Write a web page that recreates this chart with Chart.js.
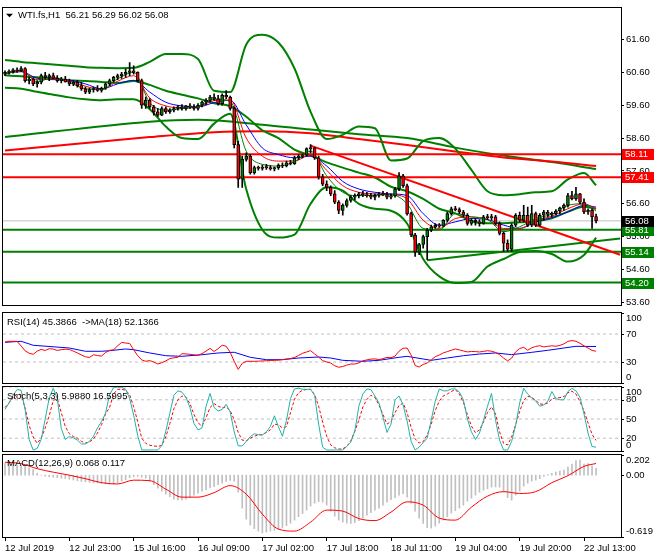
<!DOCTYPE html>
<html>
<head>
<meta charset="utf-8">
<title>WTI.fs,H1</title>
<script src="https://cdn.jsdelivr.net/npm/chart.js@4.4.1/dist/chart.umd.min.js"></script>
<style>
  body { margin: 0; background: #fff; }
  #wrap { position: relative; width: 660px; height: 560px; overflow: hidden; background: #fff; }
  canvas { position: absolute; left: 0; }
</style>
</head>
<body>
<div id="wrap">
  <canvas id="main" width="660" height="312" style="top:0px"></canvas>
  <canvas id="rsi" width="660" height="74" style="top:311px"></canvas>
  <canvas id="stoch" width="660" height="68" style="top:385px"></canvas>
  <canvas id="macd" width="660" height="107" style="top:453px"></canvas>
</div>
<script>
// ---- data (H1 bars, index 0 = 12 Jul 2019) ----
const symbol = "WTI.fs,H1";
const xTickBars = [0, 16, 32, 48, 64, 80, 96, 112, 128, 144];
const xTickLabels = ["12 Jul 2019", "12 Jul 23:00", "15 Jul 16:00", "16 Jul 09:00", "17 Jul 02:00",
                     "17 Jul 18:00", "18 Jul 11:00", "19 Jul 04:00", "19 Jul 20:00", "22 Jul 13:00"];
const priceTicks = [53.6, 54.6, 55.6, 56.6, 57.6, 58.6, 59.6, 60.6, 61.6];

const opens = [
  60.55,60.60,60.62,60.68,60.65,60.72,60.35,60.40,60.25,60.30,
  60.50,60.45,60.50,60.42,60.35,60.40,60.32,60.25,60.30,60.20,
  60.10,60.00,60.08,60.10,60.05,60.12,60.25,60.35,60.45,60.50,
  60.55,60.60,60.65,60.60,60.35,59.60,59.75,59.55,59.40,59.30,
  59.50,59.40,59.45,59.50,59.55,59.50,59.58,59.55,59.50,59.60,
  59.70,59.75,59.85,59.80,59.65,59.90,59.85,59.50,58.40,57.35,
  57.95,58.05,57.55,57.70,57.68,57.72,57.70,57.66,57.70,57.78,
  57.75,57.85,57.82,58.00,58.05,58.08,58.28,58.30,58.00,57.42,
  57.20,57.10,56.90,56.65,56.40,56.55,56.70,56.80,56.85,56.90,
  56.88,56.85,56.80,56.86,56.90,56.88,56.80,56.85,57.05,57.45,
  57.15,56.30,55.65,55.13,55.36,55.60,55.80,55.90,55.95,55.92,
  56.10,56.30,56.45,56.42,56.35,56.25,56.00,56.10,56.05,56.00,
  56.20,56.18,56.20,56.00,55.70,55.40,55.22,55.95,56.25,56.10,
  56.25,55.95,56.30,55.95,56.25,56.35,56.28,56.30,56.38,56.48,
  56.55,56.85,56.75,56.90,56.65,56.35,56.40,56.21];
const highs = [
  60.65,60.68,60.72,60.74,60.78,60.75,60.45,60.42,60.35,60.55,
  60.60,60.55,60.58,60.50,60.45,60.48,60.40,60.35,60.36,60.30,
  60.15,60.12,60.15,60.20,60.15,60.28,60.40,60.48,60.55,60.60,
  60.70,60.90,60.80,60.62,60.40,59.85,59.80,59.60,59.50,59.55,
  59.55,59.50,59.55,59.60,59.62,59.60,59.65,59.62,59.65,59.72,
  59.80,59.90,59.95,59.90,59.95,60.05,59.88,59.55,58.50,58.05,
  58.15,58.10,57.75,57.75,57.78,57.80,57.76,57.72,57.82,57.85,
  57.90,57.92,58.05,58.10,58.12,58.30,58.40,58.32,58.05,57.50,
  57.30,57.15,57.00,56.70,56.60,56.75,56.85,56.90,56.95,56.98,
  56.95,56.92,56.90,56.95,56.98,56.95,56.90,57.10,57.55,57.50,
  57.20,56.35,55.70,55.40,55.65,55.85,55.95,56.00,56.00,56.12,
  56.35,56.50,56.52,56.48,56.40,56.30,56.15,56.15,56.12,56.25,
  56.28,56.28,56.25,56.05,55.75,55.50,56.00,56.30,56.35,56.55,
  56.50,56.55,56.35,56.30,56.40,56.40,56.35,56.42,56.50,56.60,
  56.92,56.98,57.10,56.92,56.75,56.45,56.45,56.29];
const lows = [
  60.50,60.55,60.58,60.60,60.62,60.30,60.25,60.20,60.15,60.25,
  60.40,60.35,60.40,60.30,60.28,60.30,60.20,60.20,60.15,60.05,
  59.95,59.95,60.00,60.02,60.00,60.08,60.20,60.30,60.38,60.42,
  60.45,60.50,60.55,60.30,59.50,59.50,59.50,59.30,59.25,59.28,
  59.35,59.35,59.40,59.45,59.45,59.45,59.50,59.45,59.45,59.55,
  59.62,59.70,59.75,59.60,59.60,59.80,59.45,58.30,57.10,57.10,
  57.90,57.50,57.50,57.62,57.62,57.65,57.62,57.60,57.65,57.70,
  57.72,57.78,57.80,57.95,58.00,58.05,58.15,57.95,57.35,57.15,
  57.00,56.85,56.60,56.30,56.25,56.50,56.65,56.72,56.78,56.82,
  56.80,56.75,56.72,56.80,56.85,56.75,56.75,56.80,57.00,57.10,
  56.25,55.60,55.00,55.05,55.25,54.90,55.75,55.85,55.88,55.90,
  56.05,56.25,56.38,56.30,56.20,55.95,55.95,55.95,55.92,55.98,
  56.12,56.10,55.95,55.65,55.15,55.15,55.15,55.90,56.05,56.05,
  55.90,55.90,55.90,55.92,56.10,56.20,56.20,56.25,56.30,56.40,
  56.50,56.72,56.70,56.60,56.30,56.28,55.85,56.02];
const closes = [
  60.60,60.62,60.68,60.65,60.72,60.35,60.40,60.25,60.30,60.50,
  60.45,60.50,60.42,60.35,60.40,60.32,60.25,60.30,60.20,60.10,
  60.00,60.08,60.10,60.05,60.12,60.25,60.35,60.45,60.50,60.55,
  60.60,60.65,60.60,60.35,59.60,59.75,59.55,59.40,59.30,59.50,
  59.40,59.45,59.50,59.55,59.50,59.58,59.55,59.50,59.60,59.70,
  59.75,59.85,59.80,59.65,59.90,59.85,59.50,58.40,57.35,57.95,
  58.05,57.55,57.70,57.68,57.72,57.70,57.66,57.70,57.78,57.75,
  57.85,57.82,58.00,58.05,58.08,58.28,58.30,58.00,57.42,57.20,
  57.10,56.90,56.65,56.40,56.55,56.70,56.80,56.85,56.90,56.88,
  56.85,56.80,56.86,56.90,56.88,56.80,56.85,57.05,57.45,57.15,
  56.30,55.65,55.13,55.36,55.60,55.80,55.90,55.95,55.92,56.10,
  56.30,56.45,56.42,56.35,56.25,56.00,56.10,56.05,56.00,56.20,
  56.18,56.20,56.00,55.70,55.40,55.22,55.95,56.25,56.10,56.25,
  55.95,56.30,55.95,56.25,56.35,56.28,56.30,56.38,56.48,56.55,
  56.85,56.75,56.90,56.65,56.35,56.40,56.21,56.08];

// indicator lines read every 4 bars
const sampleBars = [0,4,8,12,16,20,24,28,32,36,40,44,48,52,56,60,64,68,72,76,
                    80,84,88,92,96,100,104,108,112,116,120,124,128,132,136,140,144,147];
const bbUpper = [60.98,60.92,60.88,60.84,60.80,60.76,60.74,60.73,60.74,60.92,61.16,61.16,61.01,60.04,60.00,61.45,61.75,61.51,60.72,59.40,
                 58.57,58.70,58.95,58.90,57.92,57.98,58.51,58.60,58.28,57.63,56.98,56.86,56.89,56.95,56.98,57.34,57.54,57.16];
const bbMiddle = [60.51,60.48,60.45,60.42,60.36,60.34,60.31,60.28,60.34,60.22,60.04,59.92,59.81,59.66,59.57,59.25,58.84,58.60,58.25,58.07,
                  57.86,57.70,57.55,57.40,57.12,56.98,56.75,56.45,56.31,56.07,56.01,56.01,56.04,56.07,56.16,56.36,56.51,56.45];
const bbLower = [60.13,60.10,60.01,59.92,59.84,59.78,59.75,59.78,59.78,59.48,58.95,58.60,58.57,59.04,59.34,57.04,55.81,55.57,55.66,56.60,
                 57.10,57.00,56.60,56.45,56.39,56.00,54.92,54.39,54.19,54.22,54.69,54.92,55.13,55.16,55.07,54.84,55.04,55.57];
const maGreen = [60.56,60.66,60.32,60.44,60.30,60.10,60.08,60.40,60.60,59.68,59.45,59.50,59.56,59.78,59.72,58.20,57.80,57.75,57.88,58.20,
                 57.45,56.95,56.85,56.86,56.88,56.60,55.85,55.80,56.30,56.20,56.12,55.75,55.90,56.15,56.28,56.55,56.60,56.38];
const maRed = [60.56,60.64,60.38,60.40,60.34,60.18,60.08,60.33,60.50,59.82,59.58,59.52,59.55,59.74,59.76,58.60,58.05,57.90,57.90,58.10,
               57.62,57.15,56.95,56.90,56.88,56.75,56.10,55.85,56.15,56.20,56.12,55.85,55.85,56.10,56.22,56.45,56.60,56.45];
const maBlue = [60.57,60.62,60.42,60.38,60.36,60.25,60.10,60.25,60.36,60.00,59.69,59.58,59.55,59.68,59.75,59.00,58.30,58.10,58.00,58.05,
                57.75,57.28,57.05,56.95,56.90,56.85,56.30,55.95,56.05,56.15,56.12,55.95,55.85,56.05,56.18,56.35,56.55,56.50];
const slowGreenBars = [0, 36, 48, 64, 76, 88, 100, 112, 124, 136, 147];
const slowGreen = [58.63, 59.10, 59.16, 59.01, 58.86, 58.72, 58.60, 58.31, 58.07, 57.87, 57.66];
const slowRedBars = [0, 36, 52, 64, 76, 88, 100, 112, 124, 136, 147];
const slowRed = [58.22, 58.63, 58.78, 58.81, 58.75, 58.57, 58.39, 58.19, 58.01, 57.89, 57.75];

// drawn objects
const levelValues = [58.11, 57.41, 55.81, 55.14, 54.20];
const levelKinds = ["resistance", "resistance", "support", "support", "support"];
const trendRedBars = [76, 153];
const trendRedPrices = [58.37, 55.05];
const trendGreenBars = [105, 153];
const trendGreenPrices = [54.88, 55.54];

// RSI(14) and its MA(18)
const rsi = [
  58.5,59.5,59.5,59.5,53,46,42.5,41,45.5,48,
  46.5,49,48.5,46.5,47.6,48.2,48,45.5,43,40,
  37.5,36.5,40.3,39.3,38.5,43.5,46.6,47.5,53,58,
  57.1,56.5,47.6,39,33,31,32,30,27.1,29,
  31.6,35,36,36.7,41.8,41.5,41,40.2,39.5,42,
  45.6,49.5,45,49,54,52.5,44,31,19.5,28,
  31,31,31,31.2,31.5,31.8,32.1,32.4,32.7,33.5,
  34.2,35,36.4,39.3,42.5,44.3,46.2,41.5,37,32,
  30,28.6,24.6,22.5,23.6,25.5,27.1,27.1,28.6,31.7,
  33,34.1,34.4,33.5,34.6,36.7,36,38.5,45.5,49.6,
  50,40,25,22.8,26.5,28.6,33,37.6,40,42.9,
  44.9,46.8,48.6,47.3,45.8,44.4,45,44.9,44.3,45.2,
  46.1,45.4,43.6,40.6,35.6,31.6,35.5,44.5,49.3,51,
  46.8,50.4,52.2,53.3,51.5,52.4,53.1,52.5,53.7,55.9,
  59.5,60.6,59.6,56.8,53,50,46.5,45.3866];
const rsiMaBars = [0,4,7,16,20,24,26,30,32,36,40,44,49,53,57,61,65,69,73,78,
                   81,84,89,93,98,100,104,106,110,114,118,122,126,131,135,139,142,147];
const rsiMa = [58.1,59.6,53.9,50,45.3,45.3,46.1,48.6,47.6,42.9,39,38.1,40.4,42.9,43.9,36.7,33.3,33.3,35.7,37.1,
               35.7,32.4,31,32.4,36.7,38.1,34.3,32.4,35.7,39,41.4,42.9,40.5,43.8,46.7,50,52.4,52.1366];
const rsiLevels = [70, 30];

// Stochastic(5,3,3)
const stochMain = [
  65,75,87,96,95,65,18,1.6,4,18,
  50,83,98,82,35,18,22.7,20.5,17,11,
  11,15,23,36,46,59,88,99,100,99.5,
  96.5,82,56,24,1.6,1.6,1.6,1.6,1.8,8,
  31,59,87,94,92,84,68,43,33,36,
  70,90,68,62.5,64.8,73,61,30,8,8,
  15,22.5,27,25.5,25,30,38.5,55,38,23,
  48,82,97,98,96.5,96.4,96.4,87,42,6,
  1.6,1.6,1.6,1.6,1.6,7,14,31,70,89,
  97,96,86,75,53,29,42,80,86,72,
  47,15,1.6,6,13,20,48,78,97,94,
  94,97,97,92,80,50,30,18,28,48,
  70,90,48,17,1.6,1.6,15,40,75,98,
  89,83,78,70,72,78,93,82,80,80,
  93,98,94,84,58,28,7,5.988];
const stochSignal = [
  68,75,83,89,88,67,40,22,12,20,
  36,55,79,82,60,38,27,22.5,20,15,
  12.5,14,19,28,41,58,68,89,96.4,96.4,
  95,88,69,46,20,12,9,8,7,9,
  22,43,66,80,86,84,74,57,44,39,
  52,68,74,70,67.5,69,63,49,29,17,
  16,20,23,25.4,25.4,29,33,42,41,36,
  38,60,81,91,95,96,96.4,88,70,45,
  23,9.5,5,3,3.5,7,16,31,48,69,
  80.6,87,84,72,57,42,46,60,71,75,
  60,37,19,12.5,14.5,25,42,63,78,86,
  89,93,96,89,76,57,39,28.5,33,45,
  60,69,58,30,12,9.5,22,41,62,79,
  85.5,84,79,73.5,73,75,81,83.3,83.3,85,
  91,93.5,89,77,63,44,26,16.5995];
const stochLevels = [100, 80, 50, 20];

// MACD(12,26,9): histogram per bar, signal every 4 bars
const macdMain = [
  0.12,0.115,0.11,0.10,0.095,0.088,0.075,0.055,0.02,0.0,
  -0.01,-0.015,-0.02,-0.025,-0.03,-0.033,-0.04,-0.048,-0.055,-0.062,
  -0.067,-0.072,-0.077,-0.08,-0.084,-0.087,-0.09,-0.09,-0.08,-0.06,
  -0.045,-0.025,-0.017,-0.012,-0.02,-0.03,-0.06,-0.095,-0.13,-0.16,
  -0.19,-0.215,-0.24,-0.248,-0.25,-0.24,-0.225,-0.2,-0.18,-0.16,
  -0.145,-0.128,-0.115,-0.095,-0.08,-0.062,-0.052,-0.06,-0.17,-0.33,
  -0.44,-0.5,-0.535,-0.56,-0.578,-0.57,-0.56,-0.552,-0.54,-0.525,
  -0.505,-0.48,-0.45,-0.415,-0.385,-0.35,-0.31,-0.28,-0.265,-0.27,
  -0.3,-0.36,-0.41,-0.45,-0.47,-0.48,-0.483,-0.475,-0.455,-0.43,
  -0.4,-0.375,-0.35,-0.33,-0.3,-0.27,-0.245,-0.225,-0.2,-0.185,
  -0.22,-0.28,-0.36,-0.43,-0.483,-0.525,-0.53,-0.51,-0.48,-0.45,
  -0.415,-0.38,-0.355,-0.33,-0.3,-0.26,-0.23,-0.2,-0.17,-0.15,
  -0.135,-0.12,-0.118,-0.12,-0.17,-0.225,-0.25,-0.2,-0.16,-0.11,
  -0.08,-0.06,-0.05,-0.035,-0.012,0.005,0.018,0.03,0.04,0.05,
  0.08,0.11,0.145,0.15,0.11,0.115,0.09,0.068];
const macdSignal = [0.13,0.115,0.065,0.03,0.0,-0.035,-0.075,-0.088,-0.05,-0.055,-0.14,-0.22,-0.22,-0.175,-0.105,-0.19,-0.39,-0.54,-0.56,-0.47,
                    -0.35,-0.36,-0.435,-0.455,-0.37,-0.267,-0.3,-0.43,-0.45,-0.32,-0.21,-0.165,-0.183,-0.165,-0.075,-0.005,0.088,0.117];
const macdRange = [-0.619, 0.202];

// ---- chart setup ----
const X_MIN = -0.5, X_MAX = 153.2;
const FONT = "'Liberation Sans', Arial, sans-serif";
const GREEN = "#008000", RED = "#ff0000", BLUE = "#0000ff", TEAL = "#20b2aa", SILVER = "#c0c0c0";

Chart.defaults.font.family = FONT;
Chart.defaults.font.size = 9.5;
Chart.defaults.color = "#000";
Chart.defaults.animation = false;

const last = closes.length - 1;
const seq = ys => ys.map((y, i) => ({ x: i, y }));
const pts = (xs, ys) => ys.map((y, k) => ({ x: xs[k], y }));
const flat = v => [{ x: X_MIN, y: v }, { x: X_MAX, y: v }];

function line(data, color, width, order, extra) {
  return Object.assign({ type: "line", data, borderColor: color, borderWidth: width,
    pointRadius: 0, fill: false, order, tension: 0 }, extra || {});
}
const smooth = { cubicInterpolationMode: "monotone" };

// frame round every plot area
const framePlugin = {
  id: "frame",
  afterDatasetsDraw(chart) {
    const a = chart.chartArea, ctx = chart.ctx;
    ctx.save();
    ctx.strokeStyle = "#000";
    ctx.lineWidth = 1;
    ctx.strokeRect(Math.round(a.left) - 0.5, Math.round(a.top) - 0.5,
      Math.round(a.right - a.left) + 1, Math.round(a.bottom - a.top) + 1);
    ctx.restore();
  }
};

// indicator caption in the top-left corner
const captionPlugin = {
  id: "caption",
  afterDraw(chart, args, opts) {
    if (!opts.text) return;
    const a = chart.chartArea, ctx = chart.ctx;
    ctx.save();
    ctx.font = "9.5px " + FONT;
    ctx.fillStyle = "#000";
    ctx.textBaseline = "middle";
    let x = a.left + 4;
    if (opts.arrow) {
      ctx.beginPath();
      ctx.moveTo(a.left + 3, a.top + 6);
      ctx.lineTo(a.left + 10, a.top + 6);
      ctx.lineTo(a.left + 6.5, a.top + 9.5);
      ctx.closePath();
      ctx.fill();
      x = a.left + 15;
    }
    ctx.fillText(opts.text, x, a.top + opts.dy);
    ctx.restore();
  }
};

// right-hand labels of the sub windows (kept inside the window like MT4)
const sidePlugin = {
  id: "side",
  afterDraw(chart, args, opts) {
    if (!opts.values) return;
    const s = chart.scales.y, ctx = chart.ctx;
    ctx.save();
    ctx.font = "9.5px " + FONT;
    ctx.fillStyle = "#000";
    ctx.strokeStyle = "#000";
    ctx.textBaseline = "middle";
    opts.values.forEach((v, k) => {
      const y = s.getPixelForValue(v);
      const yt = Math.min(Math.max(y, s.top + 5), s.bottom - 6);
      ctx.beginPath();
      ctx.moveTo(s.left, Math.round(y) + 0.5);
      ctx.lineTo(s.left + 3, Math.round(y) + 0.5);
      ctx.stroke();
      ctx.fillText(opts.labels[k], s.left + 5, yt);
    });
    ctx.restore();
  }
};

// coloured price tags on the price scale
const tagPlugin = {
  id: "tags",
  afterDraw(chart, args, opts) {
    if (!opts.items) return;
    const s = chart.scales.y, ctx = chart.ctx;
    ctx.save();
    ctx.font = "9.5px " + FONT;
    ctx.textBaseline = "middle";
    opts.items.forEach(t => {
      const y = Math.round(s.getPixelForValue(t.value));
      ctx.fillStyle = t.color;
      ctx.fillRect(s.left + 1, y - 5, 32, 11);
      ctx.fillStyle = "#fff";
      ctx.fillText(t.value.toFixed(2), s.left + 4, y + 0.5);
    });
    ctx.restore();
  }
};

function hiddenX() {
  return { type: "linear", min: X_MIN, max: X_MAX, offset: false, display: false, grid: { offset: false } };
}
function sideY(min, max) {
  return {
    position: "right", min, max,
    afterFit: s => { s.width = 39; },
    ticks: { display: false },
    grid: { display: false },
    border: { display: true, color: "#000" }
  };
}
function baseOptions(padding, scales, plugins) {
  return {
    responsive: false, maintainAspectRatio: false, animation: false, events: [],
    layout: { padding },
    scales,
    plugins: Object.assign({ legend: { display: false }, tooltip: { enabled: false } }, plugins)
  };
}
const allPlugins = [framePlugin, captionPlugin, sidePlugin, tagPlugin];

// ---- price window ----
const bodyColors = closes.map((c, i) => (c >= opens[i] ? GREEN : RED));
const levelColor = k => (levelKinds[k] === "resistance" ? RED : GREEN);
const mainSets = [
  { type: "bar", data: opens.map((o, i) => ({ x: i, y: [o, closes[i]] })), backgroundColor: bodyColors,
    borderColor: "#000", borderWidth: 1, borderSkipped: false, barThickness: 3, minBarLength: 1, grouped: false, order: 0 },
  { type: "bar", data: lows.map((l, i) => ({ x: i, y: [l, highs[i]] })), backgroundColor: "#000",
    borderWidth: 0, barThickness: 1, grouped: false, order: 1 },
  line(pts(sampleBars, maGreen), GREEN, 1, 2, smooth),
  line(pts(sampleBars, maRed), RED, 1, 2, smooth),
  line(pts(sampleBars, maBlue), BLUE, 1, 2, smooth),
  line(pts(trendRedBars, trendRedPrices), RED, 2, 3),
  line(pts(trendGreenBars, trendGreenPrices), GREEN, 2, 3),
  ...levelValues.map((v, k) => line(flat(v), levelColor(k), 2, 3)),
  line(pts(sampleBars, bbUpper), GREEN, 2, 4, smooth),
  line(pts(sampleBars, bbMiddle), GREEN, 2, 4, smooth),
  line(pts(sampleBars, bbLower), GREEN, 2, 4, smooth),
  line(pts(slowRedBars, slowRed), RED, 2, 5, smooth),
  line(pts(slowGreenBars, slowGreen), GREEN, 2, 5, smooth),
  line(flat(closes[last]), SILVER, 1, 6)
];
new Chart(document.getElementById("main"), {
  type: "bar",
  data: { datasets: mainSets },
  options: baseOptions({ left: 3, top: 2, right: 0, bottom: 3 }, {
    x: hiddenX(),
    y: {
      position: "right", min: 53.54, max: 62.57,
      afterBuildTicks: s => { s.ticks = priceTicks.map(v => ({ value: v })); },
      afterFit: s => { s.width = 39; },
      ticks: { padding: 2, callback: v => v.toFixed(2) },
      grid: { drawOnChartArea: false, tickLength: 3, color: "#000" },
      border: { display: true, color: "#000" }
    }
  }, {
    caption: { text: symbol + "  " + [opens[last], highs[last], lows[last], closes[last]].map(v => v.toFixed(2)).join(" "), dy: 8, arrow: true },
    tags: { items: levelValues.map((v, k) => ({ value: v, color: levelColor(k) }))
                    .concat([{ value: closes[last], color: "#000" }]) }
  }),
  plugins: allPlugins
});

// ---- RSI window ----
new Chart(document.getElementById("rsi"), {
  type: "line",
  data: { datasets: [
    line(seq(rsi), RED, 1, 0),
    line(pts(rsiMaBars, rsiMa), BLUE, 1, 1),
    ...rsiLevels.map(v => line(flat(v), SILVER, 1, 2, { borderDash: [3, 3] }))
  ] },
  options: baseOptions({ left: 3, top: 2, right: 0, bottom: 2 }, { x: hiddenX(), y: sideY(0, 100) }, {
    caption: { text: "RSI(14) " + rsi[last].toFixed(4) + "  ->MA(18) " + rsiMa[rsiMa.length - 1].toFixed(4), dy: 9 },
    side: { values: [100, 70, 30, 0], labels: ["100", "70", "30", "0"] }
  }),
  plugins: allPlugins
});

// ---- Stochastic window ----
new Chart(document.getElementById("stoch"), {
  type: "line",
  data: { datasets: [
    line(seq(stochMain), TEAL, 1, 0),
    line(seq(stochSignal), RED, 1, 1, { borderDash: [3, 2] }),
    ...stochLevels.map(v => line(flat(v), SILVER, 1, 2, { borderDash: [3, 3] }))
  ] },
  options: baseOptions({ left: 3, top: 2, right: 0, bottom: 2 }, { x: hiddenX(), y: sideY(0, 100) }, {
    caption: { text: "Stoch(5,3,3) " + stochMain[last].toFixed(4) + " " + stochSignal[last].toFixed(4), dy: 9 },
    side: { values: [100, 80, 50, 20, 0], labels: ["100", "80", "50", "20", "0"] }
  }),
  plugins: allPlugins
});

// ---- MACD window with the time axis ----
new Chart(document.getElementById("macd"), {
  type: "bar",
  data: { datasets: [
    line(pts(sampleBars, macdSignal), RED, 1, 0, smooth),
    { type: "bar", data: seq(macdMain), backgroundColor: SILVER, borderWidth: 0, barThickness: 1, grouped: false, order: 1 }
  ] },
  options: baseOptions({ left: 3, top: 2, right: 0, bottom: 0 }, {
    x: {
      type: "linear", min: X_MIN, max: X_MAX, offset: false, position: "bottom",
      afterBuildTicks: s => { s.ticks = xTickBars.map(v => ({ value: v })); },
      afterFit: s => { s.height = 23; },
      ticks: { autoSkip: false, maxRotation: 0, minRotation: 0, align: "start", padding: 2,
               callback: (v, i) => xTickLabels[i] },
      grid: { drawOnChartArea: false, tickLength: 4, color: "#000", offset: false },
      border: { display: true, color: "#000" }
    },
    y: sideY(macdRange[0], macdRange[1])
  }, {
    caption: { text: "MACD(12,26,9) " + macdMain[last].toFixed(3) + " " + macdSignal[macdSignal.length - 1].toFixed(3), dy: 8 },
    side: { values: [macdRange[1], 0, macdRange[0]], labels: [macdRange[1].toFixed(3), "0.00", macdRange[0].toFixed(3)] }
  }),
  plugins: allPlugins
});
</script>
</body>
</html>
